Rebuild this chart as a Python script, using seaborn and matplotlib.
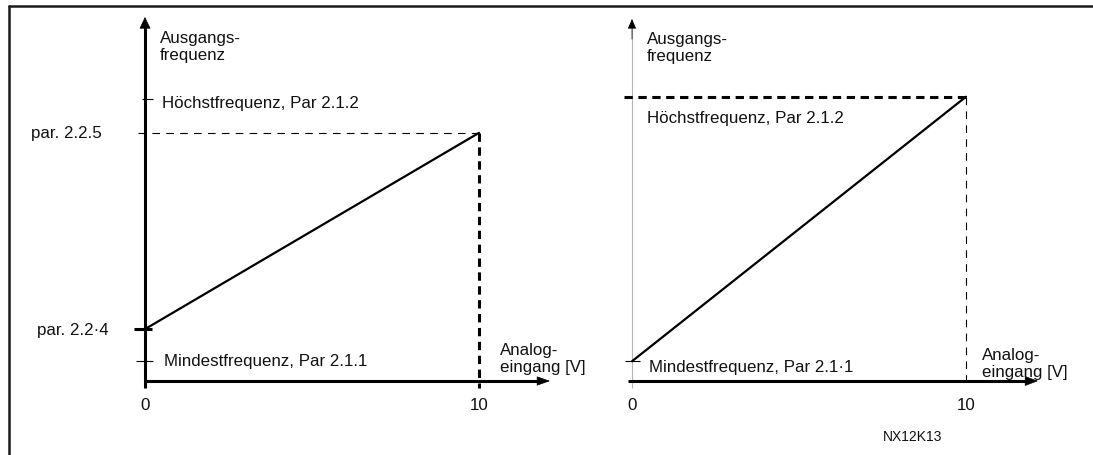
import matplotlib.pyplot as plt
import seaborn as sns
from matplotlib.lines import Line2D

# Values (x = analog input in V, y = output frequency units)
volts = [0, 10]
v_end = 10
left_min_freq = 3.5     # Mindestfrequenz, Par 2.1.1
left_max_freq = 50.0    # Höchstfrequenz, Par 2.1.2
par_224 = 9.2
par_225 = 44.0
right_min_freq = 3.5
right_max_freq = 50.4
x_ticks = [0, 10]
x_tick_labels = ['0', '10']

# pixel layout of the drawing
W, H = 1093, 455
PXV = 33.4      # pixels per volt
PXF = 5.64      # pixels per frequency unit
Y0 = 381        # pixel row of both x axes
LEFT_X0, RIGHT_X0 = 145, 632
SPLIT = 560
FS = 12.2

sns.set_theme(style='white')
plt.rcParams['font.family'] = ['Liberation Sans', 'DejaVu Sans']
plt.rcParams['lines.scale_dashes'] = False

fig = plt.figure(figsize=(W / 100, H / 100), dpi=100)
fig.patch.set_facecolor('white')
axL = fig.add_axes([0, 0, SPLIT / W, 1])
axR = fig.add_axes([SPLIT / W, 0, (W - SPLIT) / W, 1])
for ax, x0, left, width in [(axL, LEFT_X0, 0, SPLIT), (axR, RIGHT_X0, SPLIT, W - SPLIT)]:
    ax.set_xlim((left - x0) / PXV, (left + width - x0) / PXV)
    ax.set_ylim(-(H - Y0) / PXF, Y0 / PXF)
    ax.set_axis_off()


def px_x(p):
    return p / PXV


def px_y(p):
    return p / PXF


def hline(ax, x1, x2, y, lw, dash=None, color='black'):
    ls = '-' if dash is None else (0, dash)
    ax.plot([x1, x2], [y, y], color=color, lw=lw, ls=ls, solid_capstyle='butt',
            dash_capstyle='butt', clip_on=False)


def vline(ax, x, y1, y2, lw, dash=None, color='black'):
    ls = '-' if dash is None else (0, dash)
    ax.plot([x, x], [y1, y2], color=color, lw=lw, ls=ls, solid_capstyle='butt',
            dash_capstyle='butt', clip_on=False)


def head(ax, tip, back, hl, hw):
    # filled arrow head, sizes in points
    ax.annotate('', xy=tip, xytext=back, annotation_clip=False,
                arrowprops=dict(arrowstyle=f'-|>,head_length={hl},head_width={hw}',
                                mutation_scale=1, lw=0.5, color='black',
                                shrinkA=0, shrinkB=0))


def ftext(x, y, s, ha='left', va='baseline', size=FS):
    fig.text(x / W, 1 - y / H, s, ha=ha, va=va, fontsize=size, color='#111111')


# ---------------- left panel ----------------
y_tip = px_y(Y0 - 17)
x_tip = px_x(550 - LEFT_X0)
vline(axL, 0, px_y(-7), y_tip - px_y(6), 2.2)
head(axL, (0, y_tip), (0, y_tip - px_y(20)), 7.5, 3.6)
hline(axL, px_x(-1), x_tip - px_x(8), 0, 2.2)
head(axL, (x_tip, 0), (x_tip - px_x(20), 0), 8.5, 3.0)

hline(axL, px_x(-3), px_x(8), left_max_freq, 0.8)
hline(axL, px_x(-9), px_x(8), left_min_freq, 0.8)
hline(axL, px_x(-11), px_x(7), par_224, 2.2)
hline(axL, px_x(-7), v_end, par_225, 0.8, dash=(5.5, 4.5))
vline(axL, v_end, par_225, px_y(-7), 2.2, dash=(6, 4))
sns.lineplot(x=volts, y=[par_224, par_225], ax=axL, color='black', lw=1.6)

ftext(160, 31, 'Ausgangs-\nfrequenz', va='top')
ftext(162, 108, 'Höchstfrequenz, Par 2.1.2')
ftext(31, 138, 'par. 2.2.5')
ftext(37, 335, 'par. 2.2·4')
ftext(164, 366, 'Mindestfrequenz, Par 2.1.1')
ftext(500, 343, 'Analog-\neingang [V]', va='top')
for v, lab in zip(x_ticks, x_tick_labels):
    axL.text(v, px_y(-25), lab, ha='center', va='center', fontsize=FS, color='#111111')

# ---------------- right panel ----------------
y_tip_r = px_y(Y0 - 19)
x_tip_r = px_x(1038 - RIGHT_X0)
vline(axR, 0, px_y(-7), y_tip_r - px_y(5), 0.8, color='#b4b4b4')
head(axR, (0, y_tip_r), (0, y_tip_r - px_y(20)), 6.0, 2.6)
hline(axR, px_x(-4), x_tip_r - px_x(8), 0, 2.2)
head(axR, (x_tip_r, 0), (x_tip_r - px_x(20), 0), 8.5, 3.2)

hline(axR, px_x(-8), v_end, right_max_freq, 2.2, dash=(6, 4))
vline(axR, v_end, right_max_freq, px_y(-4), 0.8, dash=(5.5, 4.5))
hline(axR, px_x(-7), px_x(8), right_min_freq, 0.8)
sns.lineplot(x=volts, y=[right_min_freq, right_max_freq], ax=axR, color='black', lw=1.6)

ftext(647, 32, 'Ausgangs-\nfrequenz', va='top')
ftext(647, 123, 'Höchstfrequenz, Par 2.1.2')
ftext(649, 372, 'Mindestfrequenz, Par 2.1·1')
ftext(982, 348, 'Analog-\neingang [V]', va='top')
for v, lab in zip(x_ticks, x_tick_labels):
    axR.text(v, px_y(-25), lab, ha='center', va='center', fontsize=FS, color='#111111')
ftext(883, 437, 'NX12K13', va='center', size=10)

# outer frame (only top and left edges are visible)
fig.add_artist(Line2D([9 / W, 1], [1 - 6 / H, 1 - 6 / H], transform=fig.transFigure,
                      lw=1.8, color='#1a1a1a'))
fig.add_artist(Line2D([9 / W, 9 / W], [1 - 6 / H, 0], transform=fig.transFigure,
                      lw=1.8, color='#1a1a1a'))

fig.savefig('out.png', dpi=100, facecolor='white')
